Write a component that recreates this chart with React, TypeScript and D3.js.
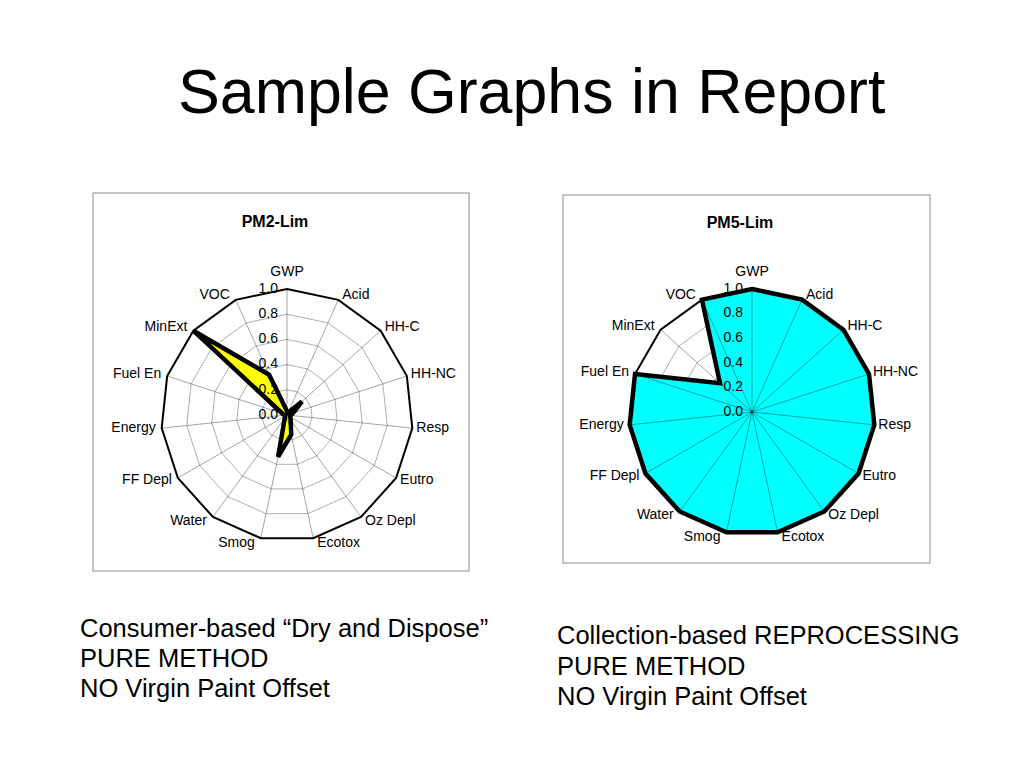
import React from "react";
import * as d3 from "d3";

const axes = ["GWP", "Acid", "HH-C", "HH-NC", "Resp", "Eutro", "Oz Depl", "Ecotox", "Smog", "Water", "FF Depl", "Energy", "Fuel En", "MinExt", "VOC"];
const pm2Values = [0.03, 0.02, 0.16, 0.05, 0.03, 0.03, 0.05, 0.16, 0.34, 0.03, 0.02, 0.02, 0.04, 1.0, 0.35];
const pm5Values = [1.0, 1.0, 1.0, 1.0, 1.0, 1.0, 1.0, 1.0, 1.0, 1.0, 1.0, 1.0, 1.0, 0.35, 1.0];
const ticks = [0, 0.2, 0.4, 0.6, 0.8, 1.0];
const titleText = "Sample Graphs in Report";
const leftCaption = ["Consumer-based \u201CDry and Dispose\u201D", "PURE METHOD", "NO Virgin Paint Offset"];
const rightCaption = ["Collection-based REPROCESSING", "PURE METHOD", "NO Virgin Paint Offset"];

const FONT = "'Liberation Sans', Arial, Helvetica, sans-serif";

type RadarProps = {
  title: string;
  values: number[];
  fill: string;
  cx: number;
  cy: number;
  R: number;
  box: [number, number, number, number];
  titleX: number;
  titleY: number;
};

function Radar({ title, values, fill, cx, cy, R, box, titleX, titleY }: RadarProps) {
  const r = d3.scaleLinear().domain([0, 1]).range([0, R]);
  const n = axes.length;
  const angle = d3.scaleLinear().domain([0, n]).range([0, 2 * Math.PI]);
  const ring = d3
    .lineRadial<number>()
    .angle((_, i) => angle(i))
    .curve(d3.curveLinearClosed);
  const ringPath = (v: number) => ring.radius(() => r(v))(axes.map(() => v)) as string;
  const dataPath = d3
    .lineRadial<number>()
    .angle((_, i) => angle(i))
    .radius((d) => r(d))
    .curve(d3.curveLinearClosed)(values) as string;

  return (
    <g>
      <rect x={box[0]} y={box[1]} width={box[2]} height={box[3]} fill="white" stroke="#8c8c8c" strokeWidth={1} />
      <text x={titleX} y={titleY} textAnchor="middle" dominantBaseline="middle" fontFamily={FONT} fontWeight="bold" fontSize={16}>
        {title}
      </text>
      <g transform={`translate(${cx},${cy})`}>
        {ticks.slice(1, -1).map((t) => (
          <path key={t} d={ringPath(t)} fill="none" stroke="#9a9a9a" strokeWidth={0.8} />
        ))}
        <path d={dataPath} fill={fill} stroke="none" />
        {axes.map((a, i) => {
          const th = angle(i);
          return (
            <line key={a} x1={0} y1={0} x2={r(1) * Math.sin(th)} y2={-r(1) * Math.cos(th)} stroke="black" strokeOpacity={0.45} strokeWidth={0.8} />
          );
        })}
        <path d={ringPath(1)} fill="none" stroke="black" strokeWidth={2} />
        <path d={dataPath} fill="none" stroke="black" strokeWidth={4.5} strokeLinejoin="miter" strokeMiterlimit={2} />
        {ticks.map((t) => (
          <text key={t} x={-9} y={-r(t)} textAnchor="end" dominantBaseline="middle" fontFamily={FONT} fontSize={14} fill="black">
            {t.toFixed(1)}
          </text>
        ))}
        {axes.map((a, i) => {
          const th = angle(i);
          const s = Math.sin(th);
          const c = Math.cos(th);
          const vx = r(1) * s;
          const vy = -r(1) * c;
          let x = vx;
          let y = vy - 5 * c;
          let anchor: "start" | "end" | "middle" = "middle";
          if (i === 0) {
            y = vy - 17;
          } else if (s > 0) {
            x = vx + 4;
            anchor = "start";
          } else {
            x = vx - 6;
            anchor = "end";
          }
          return (
            <text key={a} x={x} y={y} textAnchor={anchor} dominantBaseline="middle" fontFamily={FONT} fontSize={14} fill="black">
              {a}
            </text>
          );
        })}
      </g>
    </g>
  );
}

export default function App() {
  return (
    <svg width={1024} height={768} style={{ position: "absolute", left: 0, top: 0, background: "white" }}>
      <rect x={0} y={0} width={1024} height={768} fill="white" />
      <text x={178} y={113} fontFamily={FONT} fontSize={62.7} fill="black">
        {titleText}
      </text>
      <Radar title="PM2-Lim" values={pm2Values} fill="#ffff00" cx={287} cy={415} R={126} box={[93, 193, 376, 378]} titleX={275} titleY={223} />
      <Radar title="PM5-Lim" values={pm5Values} fill="#00ffff" cx={752} cy={412} R={123} box={[563, 195, 367, 368]} titleX={740} titleY={224} />
      {leftCaption.map((t, i) => (
        <text key={i} x={80} y={637 + i * 30} fontFamily={FONT} fontSize={25.5} fill="black">
          {t}
        </text>
      ))}
      {rightCaption.map((t, i) => (
        <text key={i} x={557} y={644 + i * 30.5} fontFamily={FONT} fontSize={25.5} fill="black">
          {t}
        </text>
      ))}
    </svg>
  );
}
